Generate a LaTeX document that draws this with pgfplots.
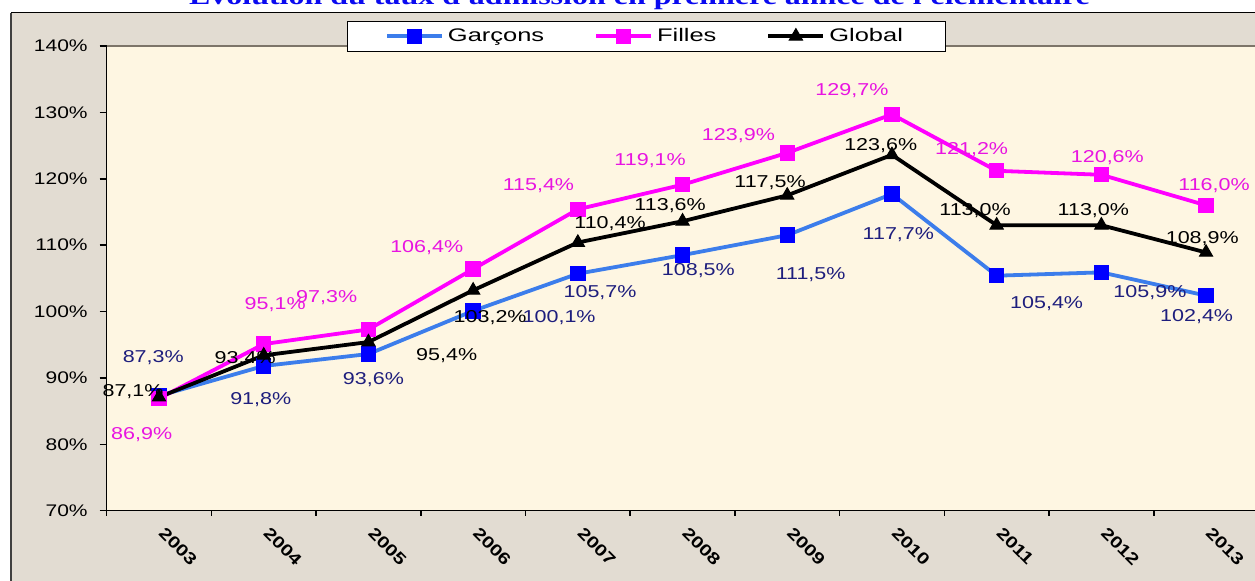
\documentclass[border=0pt]{standalone}
\usepackage{fontspec}
\setmainfont{Liberation Sans}[FakeStretch=1.25]
\newfontfamily\legfont{Liberation Sans}[FakeStretch=1.4]
\newfontfamily\titlefont{Liberation Serif}[FakeStretch=1.3]
\usepackage{pgfplots}
\pgfplotsset{compat=1.18}
\usepackage{pgfplotstable}

\definecolor{garline}{RGB}{60,125,235}
\definecolor{garmark}{RGB}{0,0,255}
\definecolor{gartext}{RGB}{30,30,125}
\definecolor{fil}{RGB}{255,0,255}
\definecolor{filtext}{RGB}{232,20,225}
\definecolor{titleblue}{RGB}{10,10,240}
\definecolor{outergrey}{RGB}{226,220,210}
\definecolor{cream}{RGB}{254,246,226}
\definecolor{topline}{RGB}{125,117,105}

\pgfplotstableread{
x y dx dy
0 87.3 -2.9 19.3
1 91.8 -1.5 -17
2 93.6 2.5 -12.6
3 100.1 43 -3.3
4 105.7 11.1 -9.4
5 108.5 7.9 -7.6
6 111.5 11.7 -19.5
7 117.7 3.2 -20.1
8 105.4 25 -14.2
9 105.9 24.3 -10
10 102.4 -4.7 -10.6
}\garcons
\pgfplotstableread{
x y dx dy
0 86.9 -8.7 -17.8
1 95.1 5.7 19.5
2 97.3 -20.9 16
3 106.4 -23.2 10.8
4 115.4 -19.7 11.7
5 119.1 -16.2 11.9
6 123.9 -24.4 8.4
7 129.7 -20 12
8 121.2 -12.5 10.8
9 120.6 3 8.7
10 116.0 4 9.7
}\filles
\pgfplotstableread{
x y dx dy
0 87.1 -13 3
1 93.4 -9.3 -1.5
2 95.4 39.1 -6.8
3 103.2 8.5 -13.6
4 110.4 16.1 9.2
5 113.6 -6.2 7.7
6 117.5 -8.6 6.4
7 123.6 -5.6 4.5
8 113.0 -10.8 7.2
9 113.0 -4 7.2
10 108.9 -1.9 6.7
}\globaltab

\pgfplotsset{
  lbl/.style={
    point meta=\thisrow{y},
    visualization depends on={\thisrow{dx} \as \dx},
    visualization depends on={\thisrow{dy} \as \dy},
    nodes near coords={\pgfmathprintnumber[fixed,fixed zerofill,precision=1,use comma]{\pgfplotspointmeta}\%},
    nodes near coords style={anchor=center, xshift=\dx pt, yshift=\dy pt, text=#1, font=\fontsize{8.6}{10}\selectfont, inner sep=0pt},
  }
}

\begin{document}
\begin{tikzpicture}
\useasboundingbox (0,0) rectangle (627.5pt,290.5pt);
\fill[white] (0,0) rectangle (627.5pt,290.5pt);
\fill[outergrey] (5.5pt,-5pt) rectangle (640pt,284.15pt);
\draw[black, line width=0.6pt] (5.5pt,284.15pt) -- (640pt,284.15pt);
\draw[black!75, line width=1pt] (5.5pt,-5pt) -- (5.5pt,284.15pt);
\node[font=\fontsize{12.3}{14}\titlefont\bfseries, text=titleblue, anchor=base, inner sep=0pt] at (319.75pt,288pt) {Evolution du taux d'admission en première année de l'élémentaire};
\begin{axis}[
  at={(53.35pt,35.15pt)}, anchor=south west,
  width=575.85pt, height=232.35pt, scale only axis,
  xmin=-0.5, xmax=10.5, ymin=70, ymax=140,
  axis x line*=bottom, axis y line*=left,
  axis line style={black, line width=0.8pt},
  axis background/.style={fill=cream},
  /pgf/number format/assume math mode=true,
  xtick={0,...,10},
  xticklabels={2003,2004,2005,2006,2007,2008,2009,2010,2011,2012,2013},
  minor xtick={-0.5,0.5,...,9.5},
  tick align=outside,
  major tick length=3.5pt,
  minor tick length=2.5pt,
  major x tick style={draw=none},
  every tick/.style={black, line width=0.8pt},
  minor tick style={black, line width=0.8pt},
  xticklabel style={font=\fontsize{8.2}{9}\selectfont\bfseries, rotate=-45, anchor=west, xshift=-1.5pt},
  xticklabel shift=5pt,
  ytick={70,80,...,140},
  yticklabel={\pgfmathprintnumber{\tick}\%},
  yticklabel style={font=\fontsize{8.4}{10}\selectfont, xshift=-2.5pt},
  legend columns=3,
  legend style={at={(0.4683,1.0544)}, anchor=north, draw=black, fill=white,
    font=\legfont\fontsize{9.1}{10}\selectfont, inner xsep=19pt, inner ysep=1.5pt,
    /tikz/every even column/.append style={column sep=23pt}},
  legend image code/.code={\draw[mark repeat=2,mark phase=2,#1] plot coordinates {(0pt,0pt) (13.75pt,0pt) (27.5pt,0pt)};},
]
\addplot[garline, line width=1.9pt, mark=square*, mark size=3.6pt, mark options={fill=garmark, draw=garmark, line width=0.5pt}, lbl=gartext] table[x=x,y=y] {\garcons};
\addlegendentry{Garçons}
\addplot[fil, line width=1.9pt, mark=square*, mark size=3.6pt, mark options={fill=fil, draw=fil, line width=0.5pt}, lbl=filtext] table[x=x,y=y] {\filles};
\addlegendentry{Filles}
\addplot[black, line width=1.9pt, mark=triangle*, mark size=3.8pt, mark options={fill=black, draw=black, line width=0.5pt}, lbl=black] table[x=x,y=y] {\globaltab};
\addlegendentry{Global}
\draw[topline, line width=0.9pt] (rel axis cs:0,1) -- (rel axis cs:1,1);
\end{axis}
\end{tikzpicture}
\end{document}
